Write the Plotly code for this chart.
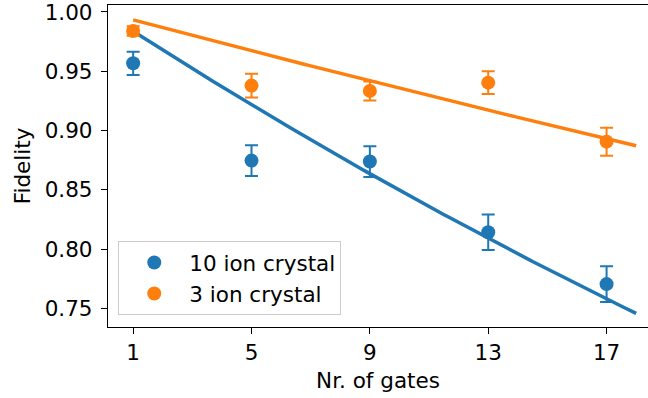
import numpy as np
import plotly.graph_objects as go

# Measured fidelities vs. number of gates
gates = [1, 5, 9, 13, 17]

fid_10ion = [0.9567, 0.8746, 0.8738, 0.8142, 0.7704]
err_10ion = [0.0098, 0.0129, 0.0130, 0.0150, 0.0150]

fid_3ion = [0.9840, 0.9379, 0.9334, 0.9404, 0.8906]
err_3ion = [0.0040, 0.0100, 0.0080, 0.0095, 0.0118]

# Fitted per-gate fidelity, model F(n) = p**n
p_10ion = 0.98383
p_3ion = 0.99337
fit_start, fit_stop = 1, 18

BLUE = "#1f77b4"
ORANGE = "#ff7f0e"
FONT = "DejaVu Sans"
FS = 21.5

n_fit = np.linspace(fit_start, fit_stop, 200)

fig = go.Figure()


def data_trace(y, err, color, name):
    return go.Scatter(
        x=gates, y=y, mode="markers", name=name,
        marker=dict(color=color, size=14),
        error_y=dict(type="data", array=err, visible=True, color=color,
                     thickness=2, width=6.5),
    )


def fit_trace(p, color):
    return go.Scatter(
        x=n_fit, y=p ** n_fit, mode="lines", showlegend=False,
        line=dict(color=color, width=3.5), hoverinfo="skip",
    )


fig.add_trace(data_trace(fid_10ion, err_10ion, BLUE, "10 ion crystal"))
fig.add_trace(fit_trace(p_10ion, BLUE))
fig.add_trace(data_trace(fid_3ion, err_3ion, ORANGE, "3 ion crystal"))
fig.add_trace(fit_trace(p_3ion, ORANGE))

axis_common = dict(
    showgrid=False, zeroline=False, ticks="outside", ticklen=6, tickwidth=1.3,
    tickcolor="black", showline=True, linecolor="black", linewidth=1.3,
    tickfont=dict(family=FONT, size=FS, color="black"),
    ticklabeloverflow="allow",
)

fig.update_xaxes(
    range=[0.15, 18.40], tickvals=gates, ticktext=[str(g) for g in gates],
    mirror=True,
    title=dict(text="Nr. of gates", font=dict(family=FONT, size=FS, color="black"),
               standoff=8),
    **axis_common,
)
fig.update_yaxes(
    range=[0.7342, 1.0059], tickvals=[0.75, 0.80, 0.85, 0.90, 0.95, 1.00],
    tickformat=".2f", ticklabelstandoff=4,
    title=dict(text="Fidelity", font=dict(family=FONT, size=FS, color="black"),
               standoff=8),
    **axis_common,
)

fig.update_layout(
    width=648, height=398,
    margin=dict(l=108, r=0, t=5, b=71),
    paper_bgcolor="white", plot_bgcolor="white",
    font=dict(family=FONT, size=FS, color="black"),
    showlegend=True,
    legend=dict(
        x=0.019, y=0.037, xanchor="left", yanchor="bottom",
        bgcolor="rgba(255,255,255,0.8)", bordercolor="#cccccc", borderwidth=1,
        font=dict(family=FONT, size=FS, color="black"),
        itemwidth=60,
    ),
)

fig.write_html("out.html")
